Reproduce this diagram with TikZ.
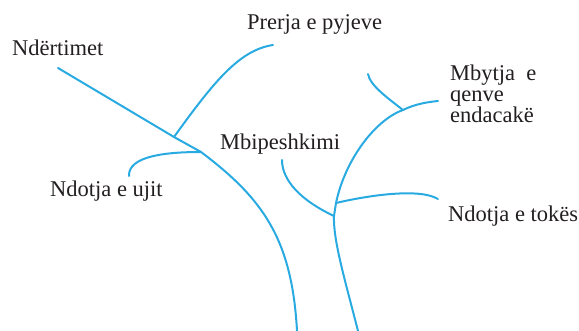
\documentclass[tikz,border=0pt]{standalone}
\usepackage{fontspec}
\setmainfont{Liberation Serif}
\definecolor{branch}{HTML}{29ABE2}
\definecolor{ink}{HTML}{231F20}
\begin{document}
\begin{tikzpicture}[x=1pt,y=-1pt,
  lbl/.style={anchor=base west,inner sep=0pt,text=ink,font=\fontsize{22.5}{21}\selectfont},
  br/.style={draw=branch,line width=2pt,line cap=round}]
\useasboundingbox (0,0) rectangle (579,331);
% labels
\node[lbl] (ndert) at (12,56) {Ndërtimet};
\node[lbl] (prerja) at (247,30) {Prerja e pyjeve};
\node[lbl] (mbip) at (220,150) {Mbipeshkimi};
\node[lbl] (ujit) at (50,197) {Ndotja e ujit};
\node[lbl,align=left,anchor=north west] (mbytja) at (450,64.5) {Mbytja\ \ e\\qenve\\endacakë};
\node[lbl] (tokes) at (448,222) {Ndotja e tokës};
% left tree coordinates
\coordinate (a0) at (58,68);
\coordinate (a1) at (174,137);
\coordinate (a2) at (201,152);
\coordinate (abot) at (297,331);
\coordinate (ap) at (273,45);
\coordinate (au) at (129,176);
% right tree coordinates
\coordinate (bbot) at (358,331);
\coordinate (b1) at (334,216);
\coordinate (b2) at (336,203);
\coordinate (b3) at (403,110);
\coordinate (bm) at (438,101);
\coordinate (bs) at (368,74);
\coordinate (bmb) at (282,160);
\coordinate (bt) at (438,199);
% left tree
\draw[br] (a0) -- (a1) -- (a2) .. controls (262,198) and (292,238) .. (abot);
\draw[br] (a1) .. controls (215,80) and (240,50) .. (ap);
\draw[br] (a2) .. controls (170,152) and (128,155) .. (au);
% right tree
\draw[br] (bbot) .. controls (345,280) and (333,240) .. (b1) -- (b2)
   .. controls (345,160) and (375,120) .. (b3) .. controls (415,104) and (428,102) .. (bm);
\draw[br] (b3) .. controls (385,96) and (370,85) .. (bs);
\draw[br] (b1) .. controls (300,200) and (282,180) .. (bmb);
\draw[br] (b2) .. controls (370,195) and (420,188) .. (bt);
\end{tikzpicture}
\end{document}
